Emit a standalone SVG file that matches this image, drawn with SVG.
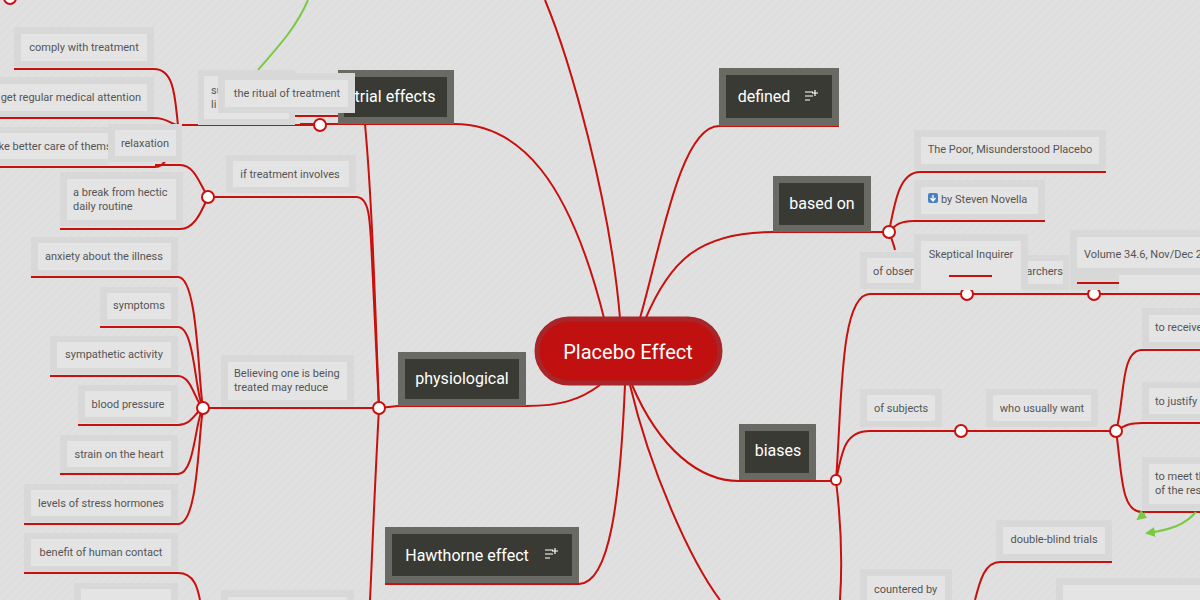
<svg xmlns="http://www.w3.org/2000/svg" width="1200" height="600" viewBox="0 0 1200 600">
<defs>
<pattern id="bg" width="6" height="6" patternUnits="userSpaceOnUse" patternTransform="rotate(45)"><rect width="6" height="6" fill="#e0e0e0"/><rect width="1" height="6" fill="#dcdcdc"/></pattern>
<marker id="ga" viewBox="0 0 10 10" refX="8" refY="5" markerWidth="5" markerHeight="5" orient="auto"><path d="M0,0 L10,5 L0,10 z" fill="#7ac943"/></marker>
</defs>
<style>
.l{fill:none;stroke:#c8100e;stroke-width:2}
.g{fill:none;stroke:#7ac943;stroke-width:2}
.h{fill:#fff;stroke:#c8100e;stroke-width:2}
.o{fill:#d8d8d8}
.i{fill:#e4e4e4}
.t{font-family:Roboto,"Liberation Sans",sans-serif;font-size:11px;fill:#555}
.do{fill:#6a6a65}
.di{fill:#3a3a35}
.dt{font-family:Roboto,"Liberation Sans",sans-serif;font-size:16px;fill:#fff}
</style>
<rect width="1200" height="600" fill="url(#bg)"/>
<g id="connectors">
<path class="g" d="M308,0 C295,30 275,50 258,70"/>
<path class="l" d="M620,318 C610,200 570,60 545,0"/>
<path class="l" d="M605,322 C570,180 520,124 454,124 L300,124"/>
<path class="l" d="M320,125 L178,125"/>
<path class="l" d="M14,69 L154,69 C175,69 175,100 178,125"/>
<path class="l" d="M0,118 L154,118 C168,118 172,125 178,125"/>
<path class="l" d="M0,167 L155,167 C170,167 172,140 178,125"/>
<path class="l" d="M295,116 L338,116"/>
<path class="l" d="M226,197 L356,197 C370,197 370,220 372,260 L379,408"/>
<path class="l" d="M365,124 C372,200 375,300 379,408"/>
<path class="l" d="M379,408 C374,500 372,560 370,600"/>
<path class="l" d="M208,197 L226,197"/>
<path class="l" d="M155,165 L180,165 C195,165 200,185 208,197"/>
<path class="l" d="M60,229 L180,229 C195,229 202,210 208,197"/>
<path class="l" d="M600,385 C580,400 560,406 526,406 L398,406 L379,408"/>
<path class="l" d="M221,408 L379,408"/>
<path class="l" d="M203,408 L221,408"/>
<path class="l" d="M31,277 L178,277 C198,277 198,380 203,408"/>
<path class="l" d="M100,327 L178,327 C195,327 195,395 203,408"/>
<path class="l" d="M50,376 L178,376 C192,376 195,402 203,408"/>
<path class="l" d="M78,425 L178,425 C192,425 195,412 203,408"/>
<path class="l" d="M60,474 L178,474 C195,474 195,420 203,408"/>
<path class="l" d="M24,524 L178,524 C198,524 198,440 203,408"/>
<path class="l" d="M24,573 L178,573 C195,573 198,590 200,600"/>
<path class="l" d="M625,385 C620,500 610,583 579,584 L385,584"/>
<path class="l" d="M630,385 C650,470 690,560 720,600"/>
<path class="l" d="M640,318 C660,250 680,126 719,126 L839,126"/>
<path class="l" d="M645,320 C670,260 700,232 773,232 L889,232"/>
<path class="l" d="M889,232 C895,200 900,172 920,172 L1106,172"/>
<path class="l" d="M889,232 C895,225 900,221 914,221 L1045,221"/>
<path class="l" d="M889,232 C892,240 894,245 895,250"/>
<path class="l" d="M632,385 C660,450 700,481 739,481 L836,481"/>
<path class="l" d="M836,481 C842,400 840,294 870,294 L1200,294"/>
<path class="l" d="M836,481 C842,450 845,431 870,431 L1116,431"/>
<path class="l" d="M1116,431 C1125,400 1120,350 1142,350 L1200,350"/>
<path class="l" d="M1116,431 C1125,425 1130,423 1142,423 L1200,423"/>
<path class="l" d="M1116,431 C1122,470 1120,512 1142,512 L1200,512"/>
<path class="l" d="M836,481 C842,530 842,570 840,600"/>
<path class="l" d="M975,600 C980,580 985,562 1000,562 L1112,562"/>
<path class="g" d="M1196,512 C1185,525 1170,530 1147,533" marker-end="url(#ga)"/>
<path class="g" d="M1145,513 L1138,519" marker-end="url(#ga)"/>
<circle class="h" cx="10" cy="-2" r="6"/>
<circle class="h" cx="320" cy="125" r="6"/>
<circle class="h" cx="208" cy="197" r="6"/>
<circle class="h" cx="379" cy="408" r="6"/>
<circle class="h" cx="203" cy="408" r="6"/>
<circle class="h" cx="889" cy="232" r="6"/>
<circle class="h" cx="967" cy="294" r="6"/>
<circle class="h" cx="1094" cy="294" r="6"/>
<circle class="h" cx="961" cy="431" r="6"/>
<circle class="h" cx="1116" cy="431" r="6"/>
<circle class="h" cx="836" cy="480" r="5"/>
</g>
<g id="trial"><rect class="do" x="338" y="70" width="116" height="54"/><rect class="di" x="344" y="77" width="103" height="40"/><text class="dt" x="395" y="102" text-anchor="middle">trial effects</text></g>
<g id="su"><rect class="o" x="198" y="70" width="97" height="55"/><rect class="i" x="204" y="76" width="85" height="43"/><text class="t" x="211" y="94">su</text><text class="t" x="211" y="108">li</text></g>
<g id="ritual"><rect class="o" x="218" y="73" width="137" height="40"/><rect class="i" x="225" y="80" width="123" height="27"/><text class="t" x="287" y="97" text-anchor="middle">the ritual of treatment</text></g>
<g id="comply"><rect class="o" x="14" y="27" width="140" height="40"/><rect class="i" x="21" y="34" width="126" height="27"/><text class="t" x="84" y="51" text-anchor="middle">comply with treatment</text></g>
<g id="regular"><rect class="o" x="-5" y="77" width="159" height="40"/><rect class="i" x="-5" y="84" width="152" height="27"/><text class="t" x="141" y="101" text-anchor="end">get regular medical attention</text></g>
<g id="care"><rect class="o" x="-5" y="127" width="113" height="38"/><rect class="i" x="-5" y="133" width="113" height="26"/><text class="t" x="-11" y="150">take better care of themselves</text></g>
<g id="relaxation"><rect class="o" x="108" y="124" width="74" height="38"/><rect class="i" x="115" y="130" width="61" height="26"/><text class="t" x="145" y="147" text-anchor="middle">relaxation</text></g>
<g id="break"><rect class="o" x="60" y="172" width="123" height="54"/><rect class="i" x="67" y="179" width="109" height="41"/><text class="t" x="73" y="196">a break from hectic</text><text class="t" x="73" y="210">daily routine</text></g>
<g id="involves"><rect class="o" x="226" y="155" width="130" height="38"/><rect class="i" x="233" y="161" width="116" height="26"/><text class="t" x="290" y="178" text-anchor="middle">if treatment involves</text></g>
<g id="anxiety"><rect class="o" x="31" y="237" width="147" height="39"/><rect class="i" x="38" y="243" width="133" height="27"/><text class="t" x="104" y="260" text-anchor="middle">anxiety about the illness</text></g>
<g id="symptoms"><rect class="o" x="100" y="287" width="78" height="38"/><rect class="i" x="107" y="293" width="64" height="26"/><text class="t" x="139" y="309" text-anchor="middle">symptoms</text></g>
<g id="sympathetic"><rect class="o" x="50" y="336" width="128" height="38"/><rect class="i" x="57" y="342" width="114" height="26"/><text class="t" x="114" y="358" text-anchor="middle">sympathetic activity</text></g>
<g id="bp"><rect class="o" x="78" y="385" width="100" height="38"/><rect class="i" x="85" y="391" width="86" height="26"/><text class="t" x="128" y="408" text-anchor="middle">blood pressure</text></g>
<g id="strain"><rect class="o" x="60" y="435" width="118" height="38"/><rect class="i" x="67" y="441" width="104" height="26"/><text class="t" x="119" y="458" text-anchor="middle">strain on the heart</text></g>
<g id="hormones"><rect class="o" x="24" y="484" width="154" height="38"/><rect class="i" x="31" y="490" width="140" height="26"/><text class="t" x="101" y="507" text-anchor="middle">levels of stress hormones</text></g>
<g id="contact"><rect class="o" x="24" y="533" width="154" height="39"/><rect class="i" x="31" y="539" width="140" height="27"/><text class="t" x="101" y="556" text-anchor="middle">benefit of human contact</text></g>
<g id="bl1"><rect class="o" x="74" y="583" width="104" height="20"/><rect class="i" x="81" y="589" width="90" height="14"/></g>
<g id="believing"><rect class="o" x="221" y="355" width="133" height="51"/><rect class="i" x="228" y="362" width="119" height="38"/><text class="t" x="234" y="377">Believing one is being</text><text class="t" x="234" y="391">treated may reduce</text></g>
<g id="bl2"><rect class="o" x="221" y="590" width="133" height="12"/><rect class="i" x="228" y="597" width="119" height="5"/></g>
<g id="poor"><rect class="o" x="914" y="130" width="192" height="40"/><rect class="i" x="921" y="137" width="178" height="27"/><text class="t" x="1010" y="153" text-anchor="middle">The Poor, Misunderstood Placebo</text></g>
<g id="novella"><rect class="o" x="914" y="180" width="131" height="40"/><rect class="i" x="921" y="187" width="117" height="27"/><rect x="928" y="193" width="10" height="10" rx="2" fill="#4a7fc1"/><path d="M933,195 L933,200 M930.5,198 L933,201 L935.5,198" stroke="#fff" stroke-width="1.3" fill="none"/><text class="t" x="941" y="203">by Steven Novella</text></g>
<g id="observers"><rect class="o" x="860" y="252" width="82" height="37"/><rect class="i" x="867" y="258" width="75" height="25"/><text class="t" x="873" y="275">of observers</text></g>
<g id="researchers"><rect class="o" x="996" y="255" width="73" height="35"/><rect class="i" x="1000" y="261" width="63" height="23"/><text class="t" x="1063" y="275" text-anchor="end">researchers</text></g>
<g id="skeptical"><rect class="o" x="914" y="234" width="114" height="56"/><rect class="i" x="921" y="241" width="100" height="27"/><rect class="i" x="921" y="268" width="100" height="22"/><text class="t" x="971" y="258" text-anchor="middle">Skeptical Inquirer</text><path class="l" d="M949,276 L992,276"/></g>
<g id="volume"><rect class="o" x="1070" y="230" width="135" height="60"/><rect class="i" x="1077" y="237" width="128" height="31"/><rect class="i" x="1119" y="275" width="86" height="15"/><text class="t" x="1084" y="258">Volume 34.6, Nov/Dec 2010</text><path class="l" d="M1077,283 L1119,283"/></g>
<g id="receive"><rect class="o" x="1142" y="308" width="63" height="40"/><rect class="i" x="1149" y="315" width="56" height="27"/><text class="t" x="1155" y="331">to receive</text></g>
<g id="subjects"><rect class="o" x="860" y="389" width="82" height="38"/><rect class="i" x="867" y="395" width="68" height="26"/><text class="t" x="874" y="412">of subjects</text></g>
<g id="want"><rect class="o" x="986" y="389" width="112" height="38"/><rect class="i" x="993" y="395" width="98" height="26"/><text class="t" x="1042" y="412" text-anchor="middle">who usually want</text></g>
<g id="justify"><rect class="o" x="1142" y="382" width="63" height="38"/><rect class="i" x="1149" y="388" width="56" height="26"/><text class="t" x="1155" y="405">to justify</text></g>
<g id="meet"><rect class="o" x="1142" y="457" width="63" height="53"/><rect class="i" x="1149" y="464" width="56" height="40"/><text class="t" x="1155" y="480">to meet the</text><text class="t" x="1155" y="494">of the research</text></g>
<g id="doubleblind"><rect class="o" x="996" y="520" width="116" height="40"/><rect class="i" x="1003" y="527" width="102" height="27"/><text class="t" x="1054" y="543" text-anchor="middle">double-blind trials</text></g>
<g id="countered"><rect class="o" x="860" y="569" width="92" height="35"/><rect class="i" x="867" y="576" width="78" height="28"/><text class="t" x="874" y="593">countered by</text></g>
<g id="br2"><rect class="o" x="1056" y="578" width="150" height="25"/><rect class="i" x="1063" y="585" width="140" height="18"/></g>
<g id="defined"><rect class="do" x="719" y="68" width="120" height="58"/><rect class="di" x="726" y="75" width="106" height="43"/><text class="dt" x="764" y="102" text-anchor="middle">defined</text><path d="M805,92 h8 M805,96 h8 M805,100 h5 M815,90 v6 M812,93 h6" stroke="#fff" stroke-width="1.2"/></g>
<g id="basedon"><rect class="do" x="773" y="176" width="98" height="56"/><rect class="di" x="779" y="183" width="85" height="42"/><text class="dt" x="822" y="209" text-anchor="middle">based on</text></g>
<g id="physiological"><rect class="do" x="398" y="352" width="128" height="54"/><rect class="di" x="405" y="359" width="114" height="40"/><text class="dt" x="462" y="384" text-anchor="middle">physiological</text></g>
<g id="biases"><rect class="do" x="739" y="424" width="77" height="56"/><rect class="di" x="745" y="431" width="64" height="42"/><text class="dt" x="778" y="456" text-anchor="middle">biases</text></g>
<g id="hawthorne"><rect class="do" x="385" y="527" width="194" height="56"/><rect class="di" x="392" y="534" width="180" height="42"/><text class="dt" x="467" y="561" text-anchor="middle">Hawthorne effect</text><path d="M545,550 h8 M545,554 h8 M545,558 h5 M555,548 v6 M552,551 h6" stroke="#fff" stroke-width="1.2"/></g>
<g id="center"><rect x="537" y="319" width="183" height="64" rx="32" fill="#c01010" stroke="#a8262a" stroke-width="5"/><text x="628" y="359" text-anchor="middle" font-family="Roboto,'Liberation Sans',sans-serif" font-size="20" fill="#fff">Placebo Effect</text></g>
</svg>
